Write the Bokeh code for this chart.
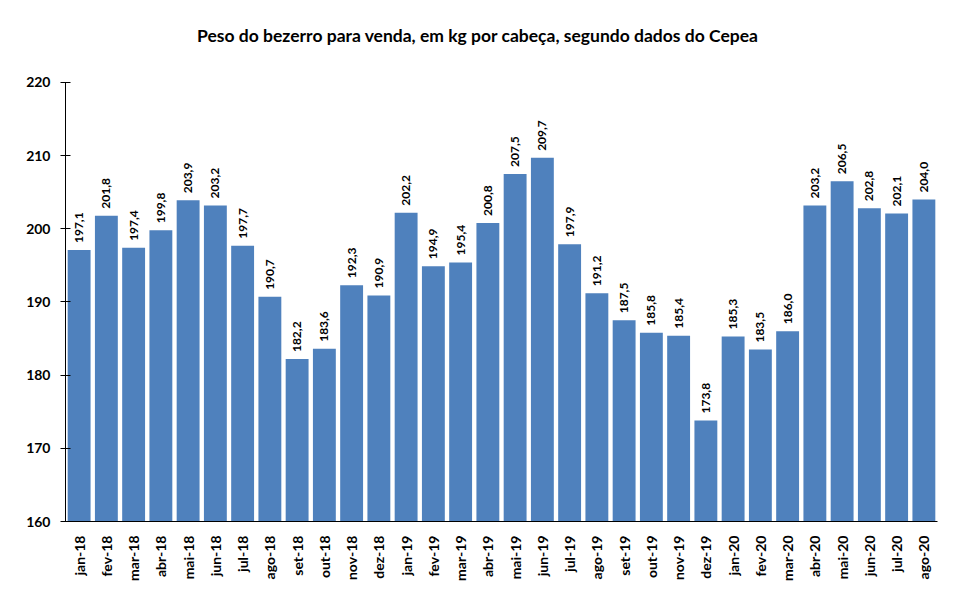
import math
from bokeh.plotting import figure
from bokeh.models import ColumnDataSource, Range1d, FactorRange
from bokeh.core.properties import value
from bokeh.embed import file_html
from bokeh.resources import INLINE

months = ["jan-18", "fev-18", "mar-18", "abr-18", "mai-18", "jun-18", "jul-18", "ago-18",
          "set-18", "out-18", "nov-18", "dez-18", "jan-19", "fev-19", "mar-19", "abr-19",
          "mai-19", "jun-19", "jul-19", "ago-19", "set-19", "out-19", "nov-19", "dez-19",
          "jan-20", "fev-20", "mar-20", "abr-20", "mai-20", "jun-20", "jul-20", "ago-20"]
weights = [197.1, 201.8, 197.4, 199.8, 203.9, 203.2, 197.7, 190.7,
           182.2, 183.6, 192.3, 190.9, 202.2, 194.9, 195.4, 200.8,
           207.5, 209.7, 197.9, 191.2, 187.5, 185.8, 185.4, 173.8,
           185.3, 183.5, 186.0, 203.2, 206.5, 202.8, 202.1, 204.0]
y_ticks = [160, 170, 180, 190, 200, 210, 220]
title_text = "Peso do bezerro para venda, em kg por cabeça, segundo dados do Cepea"

labels = [f"{v:.1f}".replace(".", ",") for v in weights]
src = ColumnDataSource(dict(m=months, w=weights, lab=labels))

FONT = "Lato"

# frame extends above 220 to host the title; axis line is bounded to 160-220
p = figure(width=960, height=593, x_range=FactorRange(*months, range_padding=0),
           y_range=Range1d(160, 228.47), output_backend="svg", toolbar_location=None,
           min_border_left=65, min_border_right=23, min_border_top=20, min_border_bottom=72)
p.outline_line_color = None
p.grid.grid_line_color = None
p.background_fill_color = "white"
p.border_fill_color = "white"

p.vbar(x="m", top="w", bottom=160, width=0.84, source=src,
       fill_color="#4F81BD", line_color=None)

p.text(x="m", y="w", text="lab", source=src, angle=math.pi / 2,
       text_align="left", text_baseline="middle", y_offset=-7,
       text_font=value(FONT), text_font_style="bold", text_font_size="12px",
       text_color="black")

# chart title
p.text(x=["abr-19"], y=[226.42], text=[title_text], x_offset=-10,
       text_align="center", text_baseline="middle",
       text_font=value(FONT), text_font_style="bold", text_font_size="17.5px",
       text_color="black")

p.yaxis.ticker = y_ticks
p.yaxis.bounds = (160, 220)
p.yaxis.minor_tick_line_color = None
p.yaxis.major_tick_in = 5
p.yaxis.major_tick_out = 5
p.yaxis.axis_line_color = "black"
p.yaxis.major_tick_line_color = "black"
p.yaxis.major_label_text_font = FONT
p.yaxis.major_label_text_font_style = "bold"
p.yaxis.major_label_text_font_size = "14px"
p.yaxis.major_label_text_color = "black"
p.yaxis.major_label_standoff = 10

p.xaxis.major_tick_line_color = None
p.xaxis.minor_tick_line_color = None
p.xaxis.axis_line_color = "black"
p.xaxis.major_label_orientation = math.pi / 2
p.xaxis.major_label_text_font = FONT
p.xaxis.major_label_text_font_style = "bold"
p.xaxis.major_label_text_font_size = "14px"
p.xaxis.major_label_text_color = "black"
p.xaxis.major_label_standoff = 8

open("out.html", "w").write(file_html(p, INLINE))
